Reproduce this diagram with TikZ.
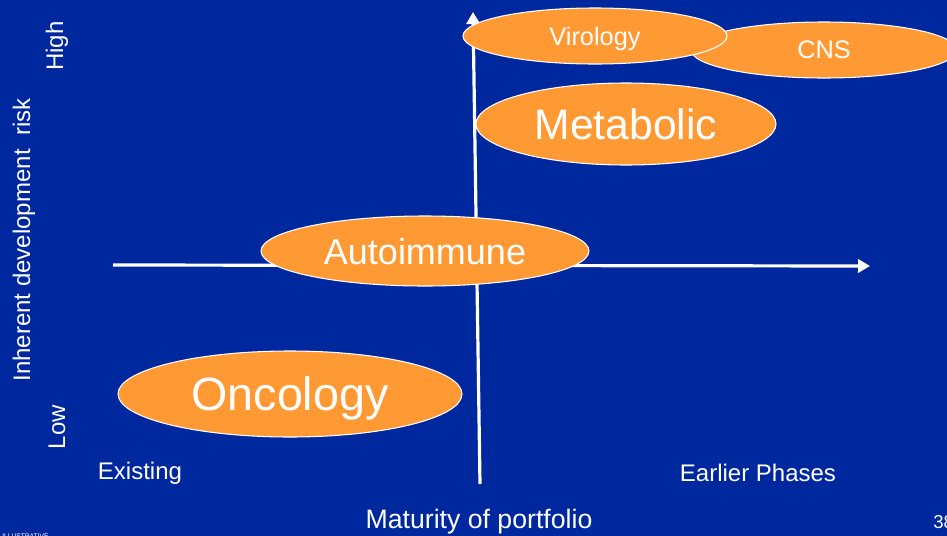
\documentclass[tikz,border=0pt]{standalone}
\usepackage{fontspec}
\setmainfont{Liberation Sans}
\usetikzlibrary{shapes.geometric,arrows.meta}
\definecolor{slideblue}{RGB}{0,40,158}
\definecolor{areaorange}{RGB}{255,153,51}
\tikzset{
	area/.style={ellipse,draw=white,line width=0.8pt,fill=areaorange,
		text=white,inner sep=0pt,text depth=0pt},
	axis/.style={draw=white,line width=2.4pt,
		-{Triangle[length=9pt,width=10pt]}},
	label/.style={text=white,inner sep=0pt}
}
\begin{document}
\begin{tikzpicture}[
	x=0.75pt,y=-0.75pt,
	font=\fontsize{18}{20}\selectfont
]
%
\fill[slideblue] (0,0) rectangle (947,536);%
\useasboundingbox (0,0) rectangle (947,536);%
%
\coordinate(ax_b) at (480,484);%
\coordinate(ax_t) at (473,12);%
\coordinate(ax_l) at (113,265);%
\coordinate(ax_r) at (870,266);%
\draw[axis] (ax_b) -- (ax_t);%
\draw[axis] (ax_l) -- (ax_r);%
%
\node(a_cns)%
    [area,minimum width=266*0.75pt,minimum height=56*0.75pt,
     font=\fontsize{19}{21}\selectfont]%
    at (824,50) {CNS};%
\node(a_viro)%
    [area,minimum width=264*0.75pt,minimum height=56*0.75pt,
     font=\fontsize{19}{21}\selectfont]%
    at (595,36) {Virology};%
\node(a_meta)%
    [area,minimum width=300*0.75pt,minimum height=82*0.75pt,
     font=\fontsize{32}{34}\selectfont]%
    at (626,124) {Metabolic};%
\node(a_auto)%
    [area,minimum width=328*0.75pt,minimum height=70*0.75pt,
     font=\fontsize{27}{29}\selectfont]%
    at (425,251) {Autoimmune};%
\node(a_onco)%
    [area,minimum width=344*0.75pt,minimum height=86*0.75pt,
     font=\fontsize{35}{37}\selectfont]%
    at (290,394) {Oncology};%
%
\node(l_risk)%
    [label,rotate=90]%
    at (24,240) {Inherent development\ \ risk};%
\node(l_high)%
    [label,rotate=90]%
    at (57,46) {High};%
\node(l_low)%
    [label,rotate=90]%
    at (57,427) {Low};%
\node(l_exist)%
    [label]%
    at (140,473) {Existing};%
\node(l_early)%
    [label]%
    at (758,473) {Earlier Phases};%
\node(l_mat)%
    [label,font=\fontsize{20}{22}\selectfont]%
    at (479,522) {Maturity of portfolio};%
\node(l_page)%
    [label,anchor=west,font=\fontsize{14}{16}\selectfont]%
    at (933,522) {38};%
\node(l_illu)%
    [label,anchor=north west,font=\fontsize{5}{6}\selectfont]%
    at (2,534) {ILLUSTRATIVE};%
%
\end{tikzpicture}
\end{document}
